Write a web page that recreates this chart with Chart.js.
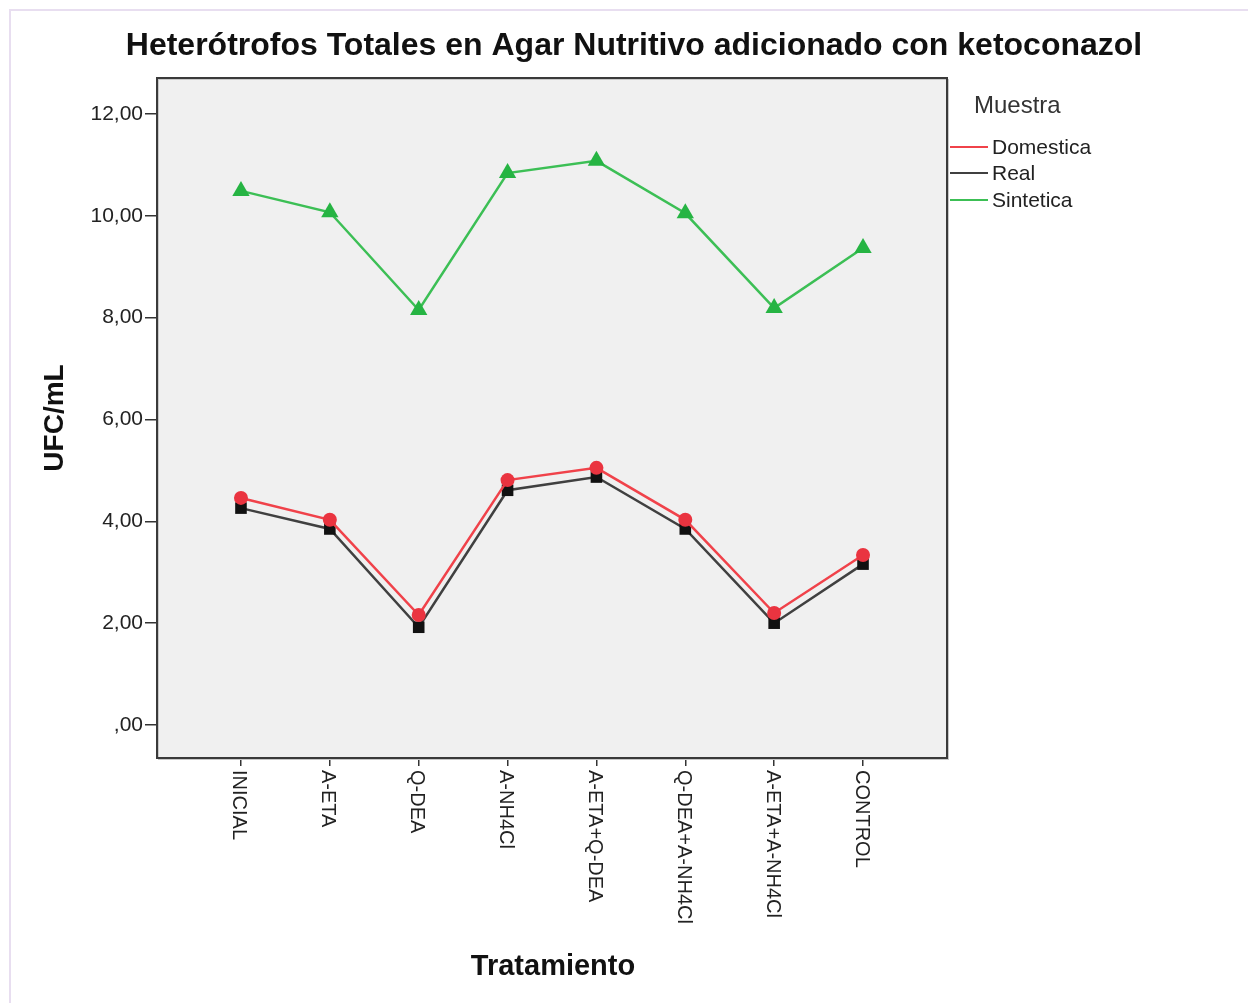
<!DOCTYPE html>
<html>
<head>
<meta charset="utf-8">
<script src="https://cdn.jsdelivr.net/npm/chart.js@4.4.1/dist/chart.umd.min.js"></script>
<style>
  html, body { margin: 0; padding: 0; background: #ffffff; }
  #wrap { position: relative; width: 1248px; height: 1003px; }
</style>
</head>
<body>
<div id="wrap"><canvas id="c" width="1248" height="1003"></canvas></div>
<script>
// ---- data ----
const categories = ["INICIAL", "A-ETA", "Q-DEA", "A-NH4Cl", "A-ETA+Q-DEA", "Q-DEA+A-NH4Cl", "A-ETA+A-NH4Cl", "CONTROL"];
const domestica = [4.46, 4.03, 2.16, 4.81, 5.05, 4.03, 2.20, 3.34];
const real      = [4.26, 3.85, 1.92, 4.61, 4.87, 3.85, 2.00, 3.16];
const sintetica = [10.49, 10.07, 8.15, 10.84, 11.08, 10.05, 8.19, 9.37];
const yTicks = [0, 2, 4, 6, 8, 10, 12];
const seriesNames = ["Domestica", "Real", "Sintetica"];
const chartTitle = "Heterótrofos Totales en Agar Nutritivo adicionado con ketoconazol";
const yTitle = "UFC/mL";
const xTitle = "Tratamiento";
const legendTitle = "Muestra";

const toPoints = arr => arr.map((v, i) => ({ x: i, y: v }));
const FONT = "'Liberation Sans', Arial, sans-serif";

const colors = {
  Domestica: { line: "#f0424a", point: "#ea3440" },
  Real: { line: "#404040", point: "#111111" },
  Sintetica: { line: "#3cbf55", point: "#26b443" }
};

const decorPlugin = {
  id: "decor",
  beforeDraw(chart) {
    const ctx = chart.ctx;
    const a = chart.chartArea;
    ctx.save();
    ctx.fillStyle = "#ffffff";
    ctx.fillRect(0, 0, chart.width, chart.height);
    // outer frame lines
    ctx.strokeStyle = "#e8def0";
    ctx.lineWidth = 2;
    ctx.beginPath();
    ctx.moveTo(10, chart.height);
    ctx.lineTo(10, 10);
    ctx.lineTo(chart.width, 10);
    ctx.stroke();
    // plot background
    ctx.fillStyle = "#f0f0f0";
    ctx.fillRect(a.left, a.top, a.right - a.left, a.bottom - a.top);
    ctx.restore();
  },
  afterDraw(chart) {
    const ctx = chart.ctx;
    const a = chart.chartArea;
    ctx.save();
    // plot frame with light shadow
    ctx.strokeStyle = "#c8c8c8";
    ctx.lineWidth = 1;
    ctx.strokeRect(a.left + 1.5, a.top + 1.5, a.right - a.left, a.bottom - a.top);
    ctx.strokeStyle = "#3a3a3a";
    ctx.lineWidth = 2;
    ctx.strokeRect(a.left, a.top, a.right - a.left, a.bottom - a.top);

    ctx.fillStyle = "#111111";
    // title
    ctx.font = "bold 32px " + FONT;
    ctx.textAlign = "center";
    ctx.textBaseline = "middle";
    ctx.fillText(chartTitle, 634, 46);

    // x axis title
    ctx.font = "bold 29px " + FONT;
    ctx.fillText(xTitle, (a.left + a.right) / 2 + 1, 967);

    // y axis title
    ctx.save();
    ctx.translate(55, 418);
    ctx.rotate(-Math.PI / 2);
    ctx.font = "bold 28px " + FONT;
    ctx.fillText(yTitle, 0, 0);
    ctx.restore();

    // x tick labels, rotated clockwise
    const xs = chart.scales.x;
    ctx.font = "20px " + FONT;
    ctx.fillStyle = "#222222";
    categories.forEach((lab, i) => {
      const px = xs.getPixelForValue(i);
      ctx.save();
      ctx.translate(px - 2, a.bottom + 12);
      ctx.rotate(Math.PI / 2);
      ctx.textAlign = "left";
      ctx.textBaseline = "middle";
      ctx.fillText(lab, 0, 0);
      ctx.restore();
    });

    // legend
    ctx.textAlign = "left";
    ctx.textBaseline = "middle";
    ctx.font = "24px " + FONT;
    ctx.fillStyle = "#333333";
    ctx.fillText(legendTitle, 974, 106);
    ctx.font = "21px " + FONT;
    const ly = [147, 173, 200];
    seriesNames.forEach((n, k) => {
      ctx.strokeStyle = colors[n].line;
      ctx.lineWidth = 2;
      ctx.beginPath();
      ctx.moveTo(950, ly[k]);
      ctx.lineTo(988, ly[k]);
      ctx.stroke();
      ctx.fillStyle = "#222222";
      ctx.fillText(n, 992, ly[k] + 1);
    });
    ctx.restore();
  }
};

const mk = (name, data, style, radius) => ({
  label: name,
  data: toPoints(data),
  borderColor: colors[name].line,
  backgroundColor: colors[name].point,
  pointBackgroundColor: colors[name].point,
  pointBorderColor: colors[name].point,
  pointStyle: style,
  pointRadius: radius,
  pointBorderWidth: 0,
  borderWidth: 2.5,
  tension: 0
});

new Chart(document.getElementById("c"), {
  type: "line",
  data: {
    datasets: [
      mk("Domestica", domestica, "circle", 7),
      mk("Real", real, "rect", 8.2),
      mk("Sintetica", sintetica, "triangle", 10)
    ]
  },
  options: {
    responsive: false,
    animation: false,
    events: [],
    layout: { padding: { top: 78, right: 301, bottom: 0, left: 0 } },
    plugins: { legend: { display: false }, title: { display: false }, tooltip: { enabled: false } },
    scales: {
      x: {
        type: "linear",
        min: -0.945,
        max: 7.945,
        afterBuildTicks: s => { s.ticks = categories.map((_, i) => ({ value: i })); },
        afterFit: s => { s.height = 245; },
        ticks: { display: false },
        grid: { drawOnChartArea: false, drawTicks: true, tickLength: 8, color: "#333333", lineWidth: 1.5 },
        border: { display: false }
      },
      y: {
        type: "linear",
        min: -0.648,
        max: 12.707,
        afterBuildTicks: s => { s.ticks = yTicks.map(v => ({ value: v })); },
        afterFit: s => { s.width = 157; },
        ticks: {
          padding: 2,
          color: "#222222",
          font: { family: FONT, size: 21 },
          callback: v => (v === 0 ? ",00" : v.toFixed(2).replace(".", ","))
        },
        grid: { drawOnChartArea: false, drawTicks: true, tickLength: 12, color: "#333333", lineWidth: 1.5 },
        border: { display: false }
      }
    }
  },
  plugins: [decorPlugin]
});
</script>
</body>
</html>
